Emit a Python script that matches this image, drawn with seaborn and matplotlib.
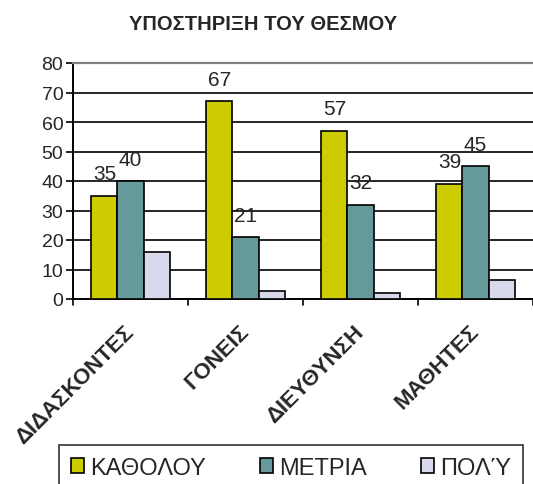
import pandas as pd
import numpy as np
import matplotlib
matplotlib.use("Agg")
import matplotlib.pyplot as plt
import seaborn as sns

# Δεδομένα
categories = ["ΔΙΔΑΣΚΟΝΤΕΣ", "ΓΟΝΕΙΣ", "ΔΙΕΥΘΥΝΣΗ", "ΜΑΘΗΤΕΣ"]
series_names = ["ΚΑΘΟΛΟΥ", "ΜΕΤΡΙΑ", "ΠΟΛΎ"]
katholou = [35, 67, 57, 39]
metria = [40, 21, 32, 45]
poly = [16, 2.7, 2, 6.6]
labelled_series = ["ΚΑΘΟΛΟΥ", "ΜΕΤΡΙΑ"]
colors = ["#CCCC00", "#669999", "#D9D9EC"]

rows = []
for name, vals in zip(series_names, [katholou, metria, poly]):
    for cat, v in zip(categories, vals):
        rows.append({"cat": cat, "series": name, "value": v})
df = pd.DataFrame(rows)

sns.set_style("white")
plt.rcParams["font.family"] = ["Liberation Sans", "DejaVu Sans"]

W, H = 533, 485
fig = plt.figure(figsize=(W / 100, H / 100), dpi=100)
ax = fig.add_axes([73 / W, 1 - 300 / H, 1 - 73 / W, (300 - 64) / H])

sns.barplot(data=df, x="cat", y="value", hue="series", order=categories,
            hue_order=series_names, palette=colors, width=0.68,
            edgecolor="black", linewidth=1.2, saturation=1, ax=ax,
            legend=False, zorder=3)

ax.set_xlim(-0.5, 3.5)
ax.set_ylim(0, 80)
ax.set_yticks(range(0, 81, 10))
ax.tick_params(axis="y", labelsize=14, length=5, width=1.2, color="black",
               direction="out", pad=2, left=True)
for y in range(10, 80, 10):
    ax.axhline(y, color="black", lw=1.2, zorder=1)

# etiquetas de categoría
ax.set_xticks(range(4))
ax.set_xticklabels(categories)
plt.setp(ax.get_xticklabels(), rotation=45, ha="right", va="center",
         rotation_mode="anchor", fontsize=16, fontweight="bold")
ax.tick_params(axis="x", length=0, pad=21)
for xt in np.arange(-0.5, 3.6, 1):
    ax.plot([xt, xt], [0, -2.2], color="black", lw=1.2, clip_on=False)

ax.set_xlabel("")
ax.set_ylabel("")
for s in ["left", "bottom"]:
    ax.spines[s].set_color("black")
    ax.spines[s].set_linewidth(1.4)
ax.spines["right"].set_visible(False)
ax.spines["top"].set_color("#808080")
ax.spines["top"].set_linewidth(1.6)

for cont, name in zip(ax.containers, series_names):
    if name in labelled_series:
        ax.bar_label(cont, labels=[f"{v:g}" for v in cont.datavalues],
                     padding=9, fontsize=15)

fig.text(263 / W, 1 - 25 / H, "ΥΠΟΣΤΗΡΙΞΗ ΤΟΥ ΘΕΣΜΟΥ", ha="center",
         va="center", fontsize=14.5, fontweight="bold")

handles = [plt.Rectangle((0, 0), 1, 1, facecolor=c, edgecolor="black", lw=1.2)
           for c in colors]
leg = fig.legend(handles, series_names, loc="upper left",
                 bbox_to_anchor=(59 / W, 1 - 446 / H), ncol=3, fontsize=17,
                 frameon=True, fancybox=False, edgecolor="black",
                 handlelength=0.55, handleheight=0.55, handletextpad=0.25,
                 columnspacing=2.3, borderpad=0.5, borderaxespad=0)
leg.get_frame().set_linewidth(1.2)

fig.savefig("out.png", dpi=100)
